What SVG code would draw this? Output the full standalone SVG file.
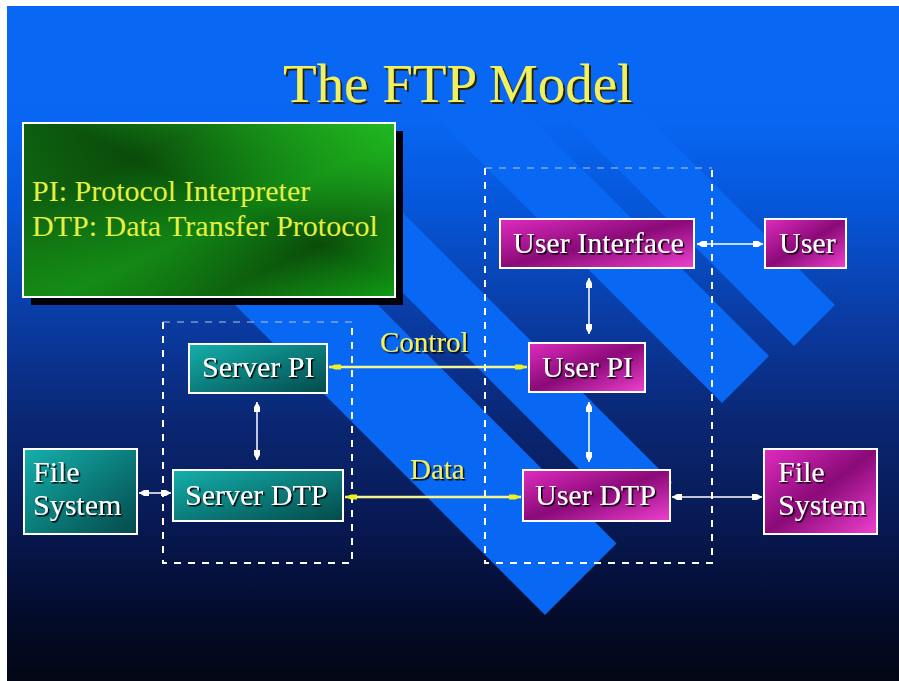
<svg xmlns="http://www.w3.org/2000/svg" width="899" height="681" viewBox="0 0 899 681">
<defs>
<linearGradient id="bg" x1="0" y1="0" x2="0" y2="1">
<stop offset="0" stop-color="#0868f4"/>
<stop offset="0.17" stop-color="#0866f2"/>
<stop offset="0.3" stop-color="#0656d8"/>
<stop offset="0.46" stop-color="#0a3ca4"/>
<stop offset="0.62" stop-color="#0a2672"/>
<stop offset="0.78" stop-color="#071850"/>
<stop offset="0.9" stop-color="#040c2c"/>
<stop offset="1" stop-color="#020614"/>
</linearGradient>
<linearGradient id="green" x1="0" y1="0" x2="1" y2="1">
<stop offset="0" stop-color="#0c5a10"/>
<stop offset="0.25" stop-color="#0a4a0a"/>
<stop offset="0.55" stop-color="#0f7a12"/>
<stop offset="0.75" stop-color="#0a4c0a"/>
<stop offset="1" stop-color="#109a14"/>
</linearGradient>
<linearGradient id="green2" x1="1" y1="0" x2="0" y2="1">
<stop offset="0" stop-color="#22c022" stop-opacity="0.9"/>
<stop offset="0.45" stop-color="#22c022" stop-opacity="0"/>
<stop offset="1" stop-color="#1aa01a" stop-opacity="0.5"/>
</linearGradient>
<linearGradient id="teal" x1="0" y1="0" x2="1" y2="1">
<stop offset="0" stop-color="#16b0ac"/>
<stop offset="0.45" stop-color="#0c8280"/>
<stop offset="1" stop-color="#044a4a"/>
</linearGradient>
<linearGradient id="mag" x1="0" y1="0" x2="1" y2="1">
<stop offset="0" stop-color="#e02cc0"/>
<stop offset="0.5" stop-color="#8a0a78"/>
<stop offset="1" stop-color="#f040d0"/>
</linearGradient>
<filter id="sh" x="-10%" y="-10%" width="130%" height="140%">
<feDropShadow dx="1.5" dy="1.5" stdDeviation="0" flood-color="#000"/>
</filter>
<filter id="tsh" x="-10%" y="-10%" width="130%" height="140%">
<feDropShadow dx="2" dy="2" stdDeviation="0" flood-color="#2a2000"/>
</filter>
<marker id="wa" viewBox="0 0 10 8" refX="10" refY="4" markerWidth="10" markerHeight="8" markerUnits="userSpaceOnUse" orient="auto-start-reverse">
<path d="M0,1 L5,1 L10,4 L5,7 L0,7 z" fill="#ffffff"/>
</marker>
<marker id="ya" viewBox="0 0 12 8" refX="12" refY="4" markerWidth="12" markerHeight="8" markerUnits="userSpaceOnUse" orient="auto-start-reverse">
<path d="M0,1.5 L6,1.5 L12,4 L6,6.5 L0,6.5 z" fill="#f0f020"/>
</marker>
<style>
.node rect{stroke:#ffffff;stroke-width:2}
.nt{font-family:"Liberation Serif","Times New Roman",serif;font-size:30px;fill:#ffffff;filter:url(#sh)}
.lbl{font-family:"Liberation Serif","Times New Roman",serif;font-size:29px;fill:#f0f060;filter:url(#sh)}
.dash{fill:none;stroke:#ffffff;stroke-width:2;stroke-dasharray:7 7}
.dtop{fill:none;stroke:#c8d0e8;stroke-width:2;stroke-dasharray:7 7;opacity:0.45}
.wl{stroke:#ffffff;stroke-width:1.5;fill:none}
.yl{stroke:#f4f490;stroke-width:2.5;fill:none}
.stripe{fill:#0868f4}
</style>
</defs>
<rect width="899" height="681" fill="#ffffff"/>
<rect x="7" y="6" width="892" height="675" fill="url(#bg)"/>
<g id="stripes">
<polygon class="stripe" points="175,245 246.5,173.5 616.5,543.5 545,615"/>
<polygon class="stripe" points="280,170 320,130 672.5,482.5 632.5,522.5"/>
<polygon class="stripe" points="409.5,90.5 456.5,43.5 769,356 722,403"/>
<polygon class="stripe" points="499.5,50.5 540,10 835,305 794,346"/>
</g>
<text id="title" x="283" y="102" font-family="Liberation Serif, Times New Roman, serif" font-size="55" fill="#f0f060" filter="url(#tsh)">The FTP Model</text>
<g id="legend">
<rect x="31" y="131" width="372" height="174" fill="#000008"/>
<rect x="23" y="123" width="372" height="174" fill="url(#green)" stroke="#ffffff" stroke-width="2"/>
<rect x="24" y="124" width="370" height="172" fill="url(#green2)"/>
<text x="32" y="201" font-family="Liberation Serif, Times New Roman, serif" font-size="30" fill="#e6f040">PI: Protocol Interpreter</text>
<text x="32" y="236" font-family="Liberation Serif, Times New Roman, serif" font-size="30" fill="#e6f040">DTP: Data Transfer Protocol</text>
</g>
<g id="boundaries">
<path class="dash" d="M163,322 V563 H352 V322"/>
<path class="dtop" d="M163,322 H352"/>
<path class="dash" d="M485,168 V563 H712 V168"/>
<path class="dtop" d="M485,168 H712"/>
</g>
<g id="connectors">
<line class="yl" x1="329" y1="367" x2="527" y2="367" marker-start="url(#ya)" marker-end="url(#ya)"/>
<line class="yl" x1="345" y1="497" x2="521" y2="497" marker-start="url(#ya)" marker-end="url(#ya)"/>
<line class="wl" x1="257" y1="402" x2="257" y2="460" marker-start="url(#wa)" marker-end="url(#wa)"/>
<line class="wl" x1="589" y1="278" x2="589" y2="334" marker-start="url(#wa)" marker-end="url(#wa)"/>
<line class="wl" x1="589" y1="402" x2="589" y2="462" marker-start="url(#wa)" marker-end="url(#wa)"/>
<line class="wl" x1="697" y1="244" x2="763" y2="244" marker-start="url(#wa)" marker-end="url(#wa)"/>
<line class="wl" x1="139" y1="493" x2="171" y2="493" marker-start="url(#wa)" marker-end="url(#wa)"/>
<line class="wl" x1="672" y1="497" x2="762" y2="497" marker-start="url(#wa)" marker-end="url(#wa)"/>
<text class="lbl" x="380" y="352">Control</text>
<text class="lbl" x="410" y="479">Data</text>
</g>
<g id="server-pi" class="node">
<rect x="189" y="344" width="138" height="49" fill="url(#teal)"/>
<text class="nt" x="202" y="377">Server PI</text>
</g>
<g id="server-dtp" class="node">
<rect x="173" y="470" width="170" height="51" fill="url(#teal)"/>
<text class="nt" x="185" y="505">Server DTP</text>
</g>
<g id="file-system-server" class="node">
<rect x="24" y="449" width="113" height="85" fill="url(#teal)"/>
<text class="nt" x="33" y="482">File</text>
<text class="nt" x="33" y="515">System</text>
</g>
<g id="user-interface" class="node">
<rect x="500" y="219" width="194" height="49" fill="url(#mag)"/>
<text class="nt" x="513" y="253">User Interface</text>
</g>
<g id="user" class="node">
<rect x="765" y="219" width="81" height="49" fill="url(#mag)"/>
<text class="nt" x="779" y="253">User</text>
</g>
<g id="user-pi" class="node">
<rect x="529" y="343" width="116" height="49" fill="url(#mag)"/>
<text class="nt" x="542" y="377">User PI</text>
</g>
<g id="user-dtp" class="node">
<rect x="523" y="470" width="147" height="51" fill="url(#mag)"/>
<text class="nt" x="535" y="505">User DTP</text>
</g>
<g id="file-system-user" class="node">
<rect x="764" y="449" width="113" height="85" fill="url(#mag)"/>
<text class="nt" x="778" y="482">File</text>
<text class="nt" x="778" y="515">System</text>
</g>
</svg>
